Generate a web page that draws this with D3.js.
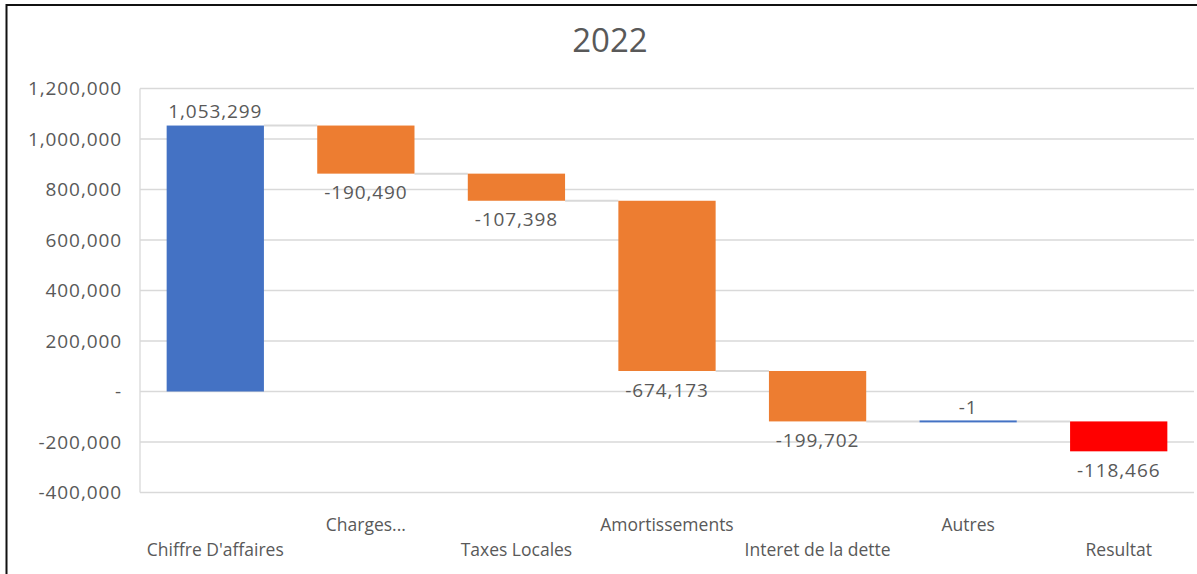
<!DOCTYPE html>
<html>
<head>
<meta charset="utf-8">
<script src="https://cdn.jsdelivr.net/npm/d3@7"></script>
<style>
  html, body { margin: 0; padding: 0; background: #fff; }
  svg { display: block; }
  text { font-family: "Open Sans", "Noto Sans", sans-serif; fill: #595959; }
</style>
</head>
<body>
<svg id="chart" width="1197" height="574"></svg>
<script>
// ---- data ----
const title = "2022";
const categories = ["Chiffre D'affaires", "Charges...", "Taxes Locales", "Amortissements", "Interet de la dette", "Autres", "Resultat"];
const values = [1053299, -190490, -107398, -674173, -199702, -1, -118466];
const barColors = ["#4472C4", "#ED7D31", "#ED7D31", "#ED7D31", "#ED7D31", "#4472C4", "#FF0000"];
const yTicks = [-400000, -200000, 0, 200000, 400000, 600000, 800000, 1000000, 1200000];

// ---- layout ----
const W = 1197, H = 574;
const plot = { left: 140, right: 1194, top: 88.5, bottom: 492.5 };
const svg = d3.select("#chart");

// frame (top & left border visible in reference)
svg.append("line").attr("x1", 6.5).attr("y1", 5).attr("x2", W).attr("y2", 5)
  .attr("stroke", "#111").attr("stroke-width", 2);
svg.append("line").attr("x1", 6.5).attr("y1", 4).attr("x2", 6.5).attr("y2", H)
  .attr("stroke", "#111").attr("stroke-width", 2);

const x = d3.scaleBand().domain(categories).range([plot.left, plot.right])
  .paddingInner(0.354).paddingOuter(0.177);
const y = d3.scaleLinear().domain([-400000, 1200000]).range([plot.bottom, plot.top]);

// title
svg.append("text").attr("x", 610).attr("y", 52).attr("text-anchor", "middle")
  .style("font-size", "33px").text(title);

// gridlines
svg.append("g").selectAll("line").data(yTicks).join("line")
  .attr("x1", plot.left).attr("x2", plot.right)
  .attr("y1", d => y(d)).attr("y2", d => y(d))
  .attr("stroke", "#d9d9d9").attr("stroke-width", 1.3);
svg.append("line").attr("x1", plot.left).attr("x2", plot.left)
  .attr("y1", plot.top).attr("y2", plot.bottom)
  .attr("stroke", "#d9d9d9").attr("stroke-width", 1.3);

// number format with plain hyphen minus
const fmt0 = d3.format(",");
const fmt = d => fmt0(d).replace("\u2212", "-");
const yAxis = d3.axisLeft(y).tickValues(yTicks).tickSize(0).tickPadding(0)
  .tickFormat(d => d === 0 ? "-" : fmt(d));
const yg = svg.append("g").attr("transform", `translate(${plot.left - 18},0)`).call(yAxis);
yg.select(".domain").remove();
yg.selectAll("text").attr("fill", "#595959")
  .style("font-family", "'Open Sans', sans-serif").style("font-size", "19px")
  .style("letter-spacing", "0.9px");

// waterfall computation
let running = 0;
const steps = values.map((v, i) => {
  const start = running;
  const end = running + v;
  running = end;
  return { cat: categories[i], v, start, end, color: barColors[i] };
});

// connectors
const conn = svg.append("g");
steps.forEach((s, i) => {
  if (i < steps.length - 1) {
    const nx = steps[i + 1];
    conn.append("line")
      .attr("x1", x(s.cat) + x.bandwidth()).attr("x2", x(nx.cat))
      .attr("y1", y(s.end)).attr("y2", y(s.end))
      .attr("stroke", "#d9d9d9").attr("stroke-width", 2);
  }
});

// bars
svg.append("g").selectAll("rect").data(steps).join("rect")
  .attr("x", d => x(d.cat))
  .attr("width", x.bandwidth())
  .attr("y", d => {
    const top = y(Math.max(d.start, d.end));
    const h = Math.abs(y(d.start) - y(d.end));
    return h < 2 ? top - 1 : top;
  })
  .attr("height", d => Math.max(2, Math.abs(y(d.start) - y(d.end))))
  .attr("fill", d => d.color);

// data labels
svg.append("g").selectAll("text").data(steps).join("text")
  .attr("x", d => x(d.cat) + x.bandwidth() / 2)
  .attr("y", d => {
    const h = Math.abs(y(d.start) - y(d.end));
    if (d.v >= 0 || h < 3) return y(Math.max(d.start, d.end)) - 14;
    return y(Math.min(d.start, d.end)) + 19;
  })
  .attr("dy", "0.35em")
  .attr("text-anchor", "middle")
  .style("font-size", "19px").style("letter-spacing", "0.9px")
  .text(d => fmt(d.v));

// category labels (staggered)
svg.append("g").selectAll("text").data(categories).join("text")
  .attr("x", d => x(d) + x.bandwidth() / 2)
  .attr("y", (d, i) => i % 2 === 0 ? 550 : 525)
  .attr("dy", "0.35em")
  .attr("text-anchor", "middle")
  .style("font-size", "17.5px")
  .text(d => d);
</script>
</body>
</html>
